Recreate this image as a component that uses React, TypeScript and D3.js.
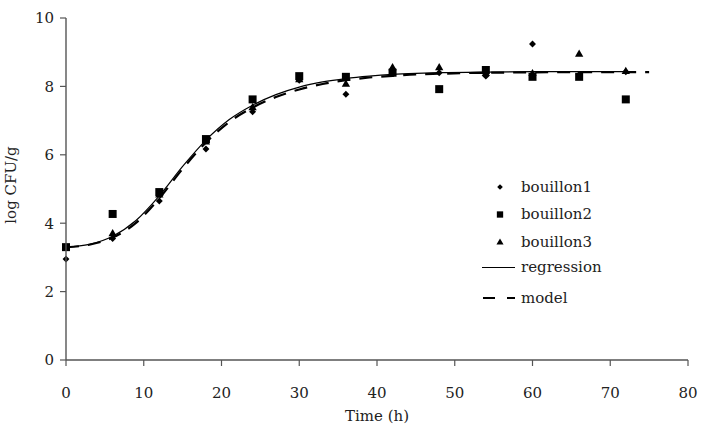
import React from "react";
import * as d3 from "d3";

const width = 701;
const height = 434;
const margin = { left: 66, right: 13, top: 18, bottom: 74 };

// sampling times (h)
const times = [0, 6, 12, 18, 24, 30, 36, 42, 48, 54, 60, 66, 72];
const bouillon1 = [2.95, 3.55, 4.65, 6.17, 7.26, 8.18, 7.77, 8.5, 8.4, 8.3, 9.24, 8.35, 8.43];
const bouillon2 = [3.3, 4.27, 4.91, 6.46, 7.62, 8.3, 8.28, 8.4, 7.92, 8.48, 8.28, 8.28, 7.62];
const bouillon3 = [3.32, 3.72, 4.85, 6.4, 7.4, 8.22, 8.09, 8.57, 8.57, 8.4, 8.4, 8.97, 8.46];

// fitted curves
const regTime = [0, 3, 6, 9, 12, 15, 18, 21, 24, 27, 30, 33, 36, 39, 42, 45, 48, 54, 60, 66, 72];
const regValues = [3.3, 3.38, 3.62, 4.08, 4.8, 5.66, 6.43, 7.03, 7.45, 7.76, 7.98, 8.13, 8.23, 8.3, 8.35, 8.38, 8.4, 8.42, 8.43, 8.43, 8.43];
const modelTime = [0, 3, 6, 9, 12, 15, 18, 21, 24, 27, 30, 33, 36, 39, 42, 45, 48, 54, 60, 66, 72, 75];
const modelValues = [3.3, 3.37, 3.58, 4.01, 4.73, 5.59, 6.36, 6.96, 7.38, 7.69, 7.91, 8.07, 8.18, 8.26, 8.31, 8.35, 8.37, 8.4, 8.41, 8.42, 8.42, 8.42];

const xTicks = [0, 10, 20, 30, 40, 50, 60, 70, 80];
const yTicks = [0, 2, 4, 6, 8, 10];
const legendLabels = ["bouillon1", "bouillon2", "bouillon3", "regression", "model"];

const font = "'DejaVu Serif', serif";
const axisColor = "#555";

const App = () => {
  const x = d3.scaleLinear().domain([0, 80]).range([margin.left, width - margin.right]);
  const y = d3.scaleLinear().domain([0, 10]).range([height - margin.bottom, margin.top]);

  const diamond = d3.symbol().type(d3.symbolSquare).size(24)();
  const square = d3.symbol().type(d3.symbolSquare).size(64)();
  const triangle = d3.symbol().type(d3.symbolTriangle).size(30)();
  const diamondSm = d3.symbol().type(d3.symbolSquare).size(16)();
  const squareSm = d3.symbol().type(d3.symbolSquare).size(40)();
  const triangleSm = d3.symbol().type(d3.symbolTriangle).size(22)();

  const line = d3
    .line<[number, number]>()
    .x((d) => x(d[0]))
    .y((d) => y(d[1]))
    .curve(d3.curveMonotoneX);

  const regPath = line(regTime.map((t, i) => [t, regValues[i]]));
  const modelPath = line(modelTime.map((t, i) => [t, modelValues[i]]));

  const y0 = y(0);
  const lx = 500;
  const ly = [187, 214.5, 242, 267.5, 298];

  return (
    <svg
      width={width}
      height={height}
      style={{ position: "absolute", left: 0, top: 0, background: "white" }}
      fontFamily={font}
    >
      {/* markers */}
      {times.map((t, i) => (
        <path key={"b2" + i} d={square!} transform={`translate(${x(t)},${y(bouillon2[i])})`} fill="black" />
      ))}
      {times.map((t, i) => (
        <path key={"b3" + i} d={triangle!} transform={`translate(${x(t)},${y(bouillon3[i]) + 1})`} fill="black" />
      ))}
      {times.map((t, i) => (
        <path key={"b1" + i} d={diamond!} transform={`translate(${x(t)},${y(bouillon1[i])}) rotate(45)`} fill="black" />
      ))}

      {/* curves */}
      <path d={modelPath!} fill="none" stroke="black" strokeWidth={2.2} strokeDasharray="13,9" />
      <path d={regPath!} fill="none" stroke="black" strokeWidth={1.2} />

      {/* axes */}
      <line x1={x(0)} x2={x(80)} y1={y0} y2={y0} stroke={axisColor} strokeWidth={1.4} />
      <line x1={x(0)} x2={x(0)} y1={y(0)} y2={y(10)} stroke={axisColor} strokeWidth={1.4} />
      {xTicks.map((t) => (
        <g key={"xt" + t}>
          <line x1={x(t)} x2={x(t)} y1={y0} y2={y0 + 6} stroke={axisColor} strokeWidth={1.2} />
          <text x={x(t)} y={398} textAnchor="middle" fontSize={15} fill="#222">
            {t}
          </text>
        </g>
      ))}
      {yTicks.map((t) => (
        <g key={"yt" + t}>
          <line x1={x(0) - 6} x2={x(0)} y1={y(t)} y2={y(t)} stroke={axisColor} strokeWidth={1.2} />
          <text x={54} y={y(t)} dy="0.36em" textAnchor="end" fontSize={15} fill="#222">
            {t}
          </text>
        </g>
      ))}
      <text x={x(40)} y={421} textAnchor="middle" fontSize={15} fill="#222">
        Time (h)
      </text>
      <text transform={`translate(16,185) rotate(-90)`} textAnchor="middle" fontSize={15} fill="#222">
        log CFU/g
      </text>

      {/* legend */}
      <path d={diamondSm!} transform={`translate(${lx},${ly[0]}) rotate(45)`} fill="black" />
      <path d={squareSm!} transform={`translate(${lx},${ly[1]})`} fill="black" />
      <path d={triangleSm!} transform={`translate(${lx},${ly[2] + 0.5})`} fill="black" />
      <line x1={482} x2={515} y1={ly[3]} y2={ly[3]} stroke="black" strokeWidth={1.2} />
      <line x1={483} x2={515} y1={ly[4]} y2={ly[4]} stroke="black" strokeWidth={2.2} strokeDasharray="12,12" />
      {legendLabels.map((l, i) => (
        <text key={l} x={521} y={ly[i]} dy="0.3em" fontSize={15} fill="#222">
          {l}
        </text>
      ))}
    </svg>
  );
};

export default App;
